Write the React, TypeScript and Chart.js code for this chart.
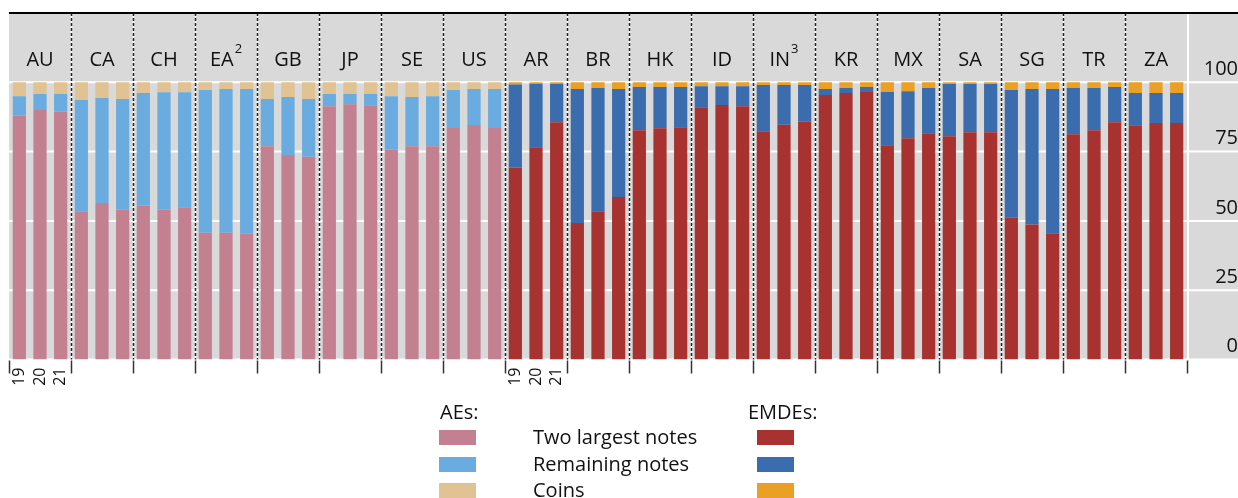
import React, { useEffect, useRef } from 'react';
import { Chart, registerables } from 'chart.js';

Chart.register(...registerables);

const countries = ['AU', 'CA', 'CH', 'EA', 'GB', 'JP', 'SE', 'US', 'AR', 'BR', 'HK', 'ID', 'IN', 'KR', 'MX', 'SA', 'SG', 'TR', 'ZA'];
const countrySup = ['', '', '', '2', '', '', '', '', '', '', '', '', '3', '', '', '', '', '', ''];
const aeCount = 8;
const years = ['19', '20', '21'];
const yearLabelGroups = [0, 8];
const yTicks = [0, 25, 50, 75, 100];
const seriesNames = ['Two largest notes', 'Remaining notes', 'Coins'];

const largestNotes = [
  88.0, 90.0, 89.5,
  53.5, 56.5, 54.0,
  55.6, 54.1, 54.9,
  45.7, 45.7, 45.4,
  76.9, 73.8, 73.1,
  91.4, 92.1, 91.7,
  75.8, 76.9, 76.9,
  83.5, 84.6, 83.5,
  69.3, 76.6, 85.6,
  49.2, 53.5, 58.6,
  82.7, 83.4, 83.8,
  91.0, 91.8, 91.4,
  82.3, 84.7, 85.8,
  95.4, 96.1, 96.5,
  77.3, 79.8, 81.6,
  80.5, 82.0, 82.0,
  51.2, 48.7, 45.5,
  81.3, 82.7, 85.6,
  84.5, 85.3, 85.3,
];
const remainingNotes = [
  7.0, 5.8, 6.3,
  40.1, 37.8, 40.0,
  40.5, 42.3, 41.5,
  51.5, 51.9, 52.2,
  17.1, 20.9, 20.9,
  4.4, 3.7, 4.1,
  19.2, 17.8, 18.1,
  13.7, 13.0, 14.1,
  29.9, 22.9, 13.9,
  48.4, 44.4, 39.0,
  15.6, 14.9, 14.5,
  7.6, 6.8, 7.2,
  16.7, 14.3, 13.2,
  2.2, 1.8, 1.8,
  19.2, 17.0, 16.3,
  18.9, 17.4, 17.4,
  46.0, 48.9, 52.1,
  16.6, 15.2, 12.7,
  11.6, 10.8, 10.8,
];
const coins = [
  5.0, 4.2, 4.2,
  6.4, 5.7, 6.0,
  3.9, 3.6, 3.6,
  2.8, 2.4, 2.4,
  6.0, 5.3, 6.0,
  4.2, 4.2, 4.2,
  5.0, 5.3, 5.0,
  2.8, 2.4, 2.4,
  0.8, 0.5, 0.5,
  2.4, 2.1, 2.4,
  1.7, 1.7, 1.7,
  1.4, 1.4, 1.4,
  1.0, 1.0, 1.0,
  2.4, 2.1, 1.7,
  3.5, 3.2, 2.1,
  0.6, 0.6, 0.6,
  2.8, 2.4, 2.4,
  2.1, 2.1, 1.7,
  3.9, 3.9, 3.9,
];

const aeColors = ['#C38090', '#6AACE0', '#E1C292'];
const emdeColors = ['#A83230', '#3A6CAE', '#EAA024'];

const FONT = '"Open Sans", "Noto Sans", sans-serif';
const categories = countries.flatMap((c) => years.map((y) => c + ' ' + y));

const line = (ctx: any, x1: number, y1: number, x2: number, y2: number) => {
  ctx.beginPath();
  ctx.moveTo(x1, y1);
  ctx.lineTo(x2, y2);
  ctx.stroke();
};

const boundaryOf = (chart: any, g: number) => {
  const ca = chart.chartArea;
  const xs = chart.scales.x;
  if (g === 0) return ca.left;
  if (g === countries.length) return ca.right;
  return (xs.getPixelForValue(g * 3 - 1) + xs.getPixelForValue(g * 3)) / 2;
};

const decorPlugin = {
  id: 'decor',
  beforeDraw(chart: any) {
    const { ctx, chartArea: ca, scales } = chart;
    const ys = scales.y;
    const W = chart.width;
    ctx.save();
    ctx.fillStyle = '#D9D9D9';
    ctx.fillRect(ca.left, ca.top, W - ca.left, ca.bottom - ca.top);
    ctx.strokeStyle = '#FFFFFF';
    ctx.lineWidth = 2;
    yTicks.forEach((v) => {
      const py = ys.getPixelForValue(v);
      line(ctx, ca.left, py, W, py);
    });
    line(ctx, ca.right + 1, ca.top, ca.right + 1, ca.bottom);
    ctx.restore();
  },
  beforeDatasetsDraw(chart: any) {
    const { ctx, chartArea: ca } = chart;
    const W = chart.width;
    ctx.save();
    for (let g = 1; g < countries.length; g++) {
      const px = Math.round(boundaryOf(chart, g)) + 0.5;
      ctx.setLineDash([]);
      ctx.strokeStyle = '#FFFFFF';
      ctx.lineWidth = 1.5;
      line(ctx, px, ca.top, px, ca.bottom);
      ctx.setLineDash([3, 2]);
      ctx.strokeStyle = '#222222';
      line(ctx, px, ca.top, px, ca.bottom);
    }
    ctx.setLineDash([]);
    ctx.strokeStyle = '#000000';
    ctx.lineWidth = 2;
    line(ctx, ca.left, ca.top, W, ca.top);

    // tick marks under the axis at group boundaries
    ctx.strokeStyle = '#333333';
    ctx.lineWidth = 1.5;
    for (let g = 0; g <= countries.length; g++) {
      const px = Math.round(boundaryOf(chart, g)) + 0.5;
      line(ctx, px, ca.bottom + 1, px, ca.bottom + 14);
    }

    // country labels
    const labelY = ca.top + 47;
    ctx.fillStyle = '#111111';
    ctx.textBaseline = 'middle';
    countries.forEach((c, g) => {
      const cx = (boundaryOf(chart, g) + boundaryOf(chart, g + 1)) / 2;
      ctx.font = '20px ' + FONT;
      const w1 = ctx.measureText(c).width;
      let w2 = 0;
      if (countrySup[g]) {
        ctx.font = '13px ' + FONT;
        w2 = ctx.measureText(countrySup[g]).width + 1;
      }
      const start = cx - (w1 + w2) / 2;
      ctx.font = '20px ' + FONT;
      ctx.textAlign = 'left';
      ctx.fillText(c, start, labelY);
      if (countrySup[g]) {
        ctx.font = '13px ' + FONT;
        ctx.fillText(countrySup[g], start + w1 + 1, labelY - 11);
      }
    });
    ctx.restore();
  },
  afterDraw(chart: any) {
    const { ctx } = chart;
    ctx.save();
    ctx.fillStyle = '#111111';
    ctx.textBaseline = 'middle';
    ctx.textAlign = 'left';
    ctx.font = '20px ' + FONT;
    ctx.fillText('AEs:', 440, 413);
    ctx.fillText('EMDEs:', 748, 413);
    const rowY = [438, 465, 491];
    seriesNames.forEach((name, i) => {
      const ds = chart.data.datasets[i];
      const colors = ds.backgroundColor as string[];
      ctx.fillStyle = colors[0];
      ctx.fillRect(439, rowY[i] - 8, 37, 15);
      ctx.fillStyle = colors[colors.length - 1];
      ctx.fillRect(757, rowY[i] - 8, 37, 15);
      ctx.fillStyle = '#111111';
      ctx.fillText(name, 533, rowY[i]);
    });
    ctx.restore();
  },
};

export default function App() {
  const canvasRef = useRef<HTMLCanvasElement | null>(null);

  useEffect(() => {
    const canvas = canvasRef.current;
    if (!canvas) return;
    const colorFor = (k: number) => categories.map((_, i) => (Math.floor(i / 3) < aeCount ? aeColors[k] : emdeColors[k]));
    const seriesData = [largestNotes, remainingNotes, coins];
    const chart = new Chart(canvas, {
      type: 'bar',
      data: {
        labels: categories,
        datasets: seriesData.map((d, k) => ({
          label: seriesNames[k],
          data: d,
          backgroundColor: colorFor(k),
          borderWidth: 0,
          barPercentage: 0.64,
          categoryPercentage: 1,
        })),
      },
      options: {
        responsive: false,
        animation: false,
        devicePixelRatio: 1,
        layout: { padding: { left: 9, right: 0, top: 13, bottom: 98.5 } },
        plugins: { legend: { display: false }, tooltip: { enabled: false } },
        scales: {
          x: {
            stacked: true,
            offset: true,
            grid: { display: false, drawTicks: false },
            border: { display: false },
            afterFit: (s: any) => {
              s.height = 40;
              s.paddingLeft = 0;
              s.paddingRight = 0;
            },
            ticks: {
              autoSkip: false,
              minRotation: 90,
              maxRotation: 90,
              padding: 8,
              color: '#111111',
              font: { family: FONT, size: 16 },
              callback: (_v: any, i: number) => (yearLabelGroups.includes(Math.floor(i / 3)) ? years[i % 3] : ''),
            },
          },
          y: {
            stacked: true,
            position: 'right',
            min: 0,
            max: 125,
            grid: { display: false, drawTicks: false },
            border: { display: false },
            afterFit: (s: any) => {
              s.width = 51;
              s.paddingTop = 0;
              s.paddingBottom = 0;
            },
            afterBuildTicks: (s: any) => {
              s.ticks = yTicks.map((v) => ({ value: v }));
            },
            ticks: {
              stepSize: 25,
              crossAlign: 'far',
              labelOffset: -13,
              padding: 15,
              color: '#111111',
              font: { family: FONT, size: 20 },
            },
          },
        },
      },
      plugins: [decorPlugin],
    } as any);
    return () => chart.destroy();
  }, []);

  return (
    <div style={{ position: 'absolute', left: 0, top: 0, width: 1238, height: 498, background: '#FFFFFF' }}>
      <canvas ref={canvasRef} width={1238} height={498} style={{ display: 'block' }} />
    </div>
  );
}
